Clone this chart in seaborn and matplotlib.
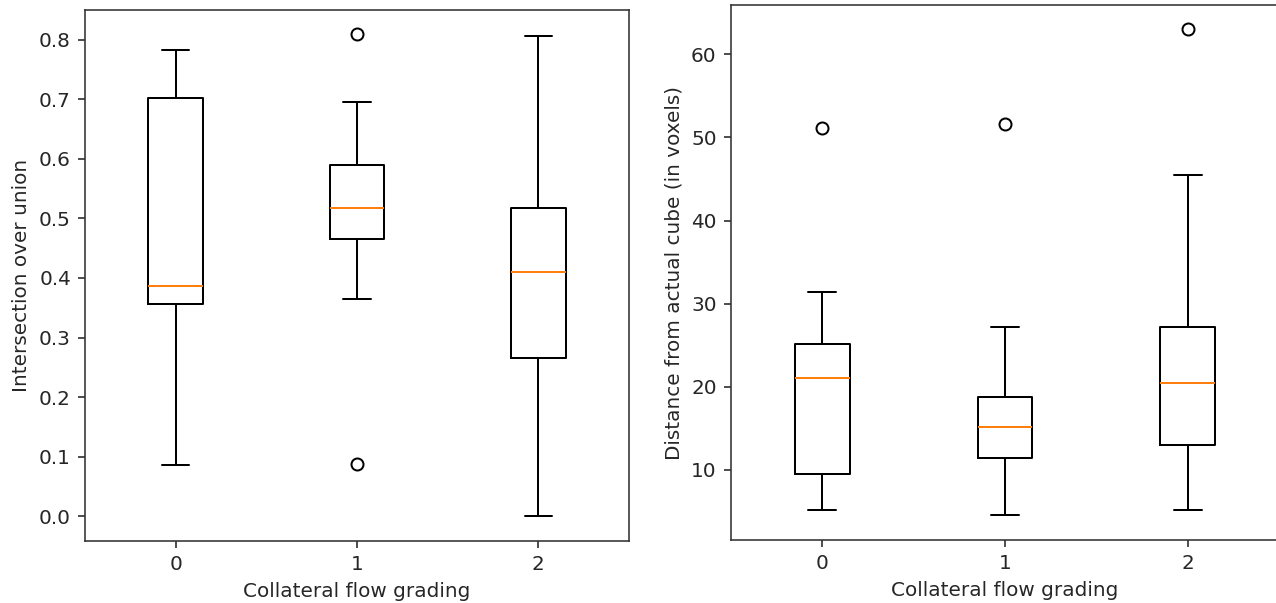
import matplotlib
matplotlib.use("Agg")
import matplotlib.pyplot as plt
import seaborn as sns

# ---- data ----
categories = ["0", "1", "2"]

# Left panel: Intersection over union
iou_whislo = [0.086, 0.364, 0.000]
iou_q1 = [0.357, 0.466, 0.265]
iou_med = [0.387, 0.518, 0.410]
iou_q3 = [0.702, 0.590, 0.518]
iou_whishi = [0.784, 0.695, 0.807]
iou_fliers = [[], [0.810, 0.088], []]

# Right panel: Distance from actual cube (in voxels)
dist_whislo = [5.2, 4.5, 5.2]
dist_q1 = [9.5, 11.4, 13.0]
dist_med = [21.0, 15.2, 20.4]
dist_q3 = [25.1, 18.7, 27.2]
dist_whishi = [31.4, 27.2, 45.5]
dist_fliers = [[51.1], [51.6], [63.0]]

sns.set_style("ticks")
plt.rcParams.update({
    "font.family": ["DejaVu Sans"],
    "font.size": 10,
    "axes.labelsize": 10,
    "xtick.labelsize": 10,
    "ytick.labelsize": 10,
    "xtick.major.size": 3.5,
    "ytick.major.size": 3.5,
    "xtick.major.width": 0.8,
    "ytick.major.width": 0.8,
    "axes.linewidth": 0.8,
    "axes.edgecolor": "#333333",
    "text.color": "#262626",
    "axes.labelcolor": "#262626",
    "xtick.color": "#262626",
    "ytick.color": "#262626",
})


def make_stats(whislo, q1, med, q3, whishi, fliers):
    stats = []
    for i in range(len(categories)):
        stats.append(dict(whislo=whislo[i], q1=q1[i], med=med[i], q3=q3[i],
                          whishi=whishi[i], fliers=fliers[i], label=categories[i]))
    return stats


fig = plt.figure(figsize=(1276 / 144, 603 / 144), dpi=144)
ax1 = fig.add_axes([85 / 1276, 62 / 603, 544 / 1276, 531 / 603])
ax2 = fig.add_axes([730.7 / 1276, 63 / 603, 554 / 1276, 534.7 / 603])

common = dict(
    positions=[0, 1, 2], widths=0.3,
    boxprops=dict(color="black", linewidth=1.0),
    whiskerprops=dict(color="black", linewidth=1.0),
    capprops=dict(color="black", linewidth=1.0),
    medianprops=dict(color="#ff7f0e", linewidth=1.0),
    flierprops=dict(marker="o", markerfacecolor="none", markeredgecolor="black",
                    markersize=6, linestyle="none"),
)

ax1.bxp(make_stats(iou_whislo, iou_q1, iou_med, iou_q3, iou_whishi, iou_fliers), **common)
ax2.bxp(make_stats(dist_whislo, dist_q1, dist_med, dist_q3, dist_whishi, dist_fliers), **common)

ax1.set_xlim(-0.5, 2.5)
ax1.set_ylim(-0.0420, 0.8504)
ax1.set_yticks([0.0, 0.1, 0.2, 0.3, 0.4, 0.5, 0.6, 0.7, 0.8])
ax1.set_ylabel("Intersection over union")
ax1.set_xlabel("Collateral flow grading")

ax2.set_xlim(-0.5, 2.53)
ax2.set_ylim(1.55, 65.9)
ax2.set_yticks([10, 20, 30, 40, 50, 60])
ax2.set_ylabel("Distance from actual cube (in voxels)")
ax2.set_xlabel("Collateral flow grading")
ax2.xaxis.label.set_x(1.5 / 3.03)

for ax in (ax1, ax2):
    ax.set_xticks([0, 1, 2])
    ax.set_xticklabels(categories)
    for s in ax.spines.values():
        s.set_visible(True)

fig.savefig("out.png", dpi=144)
